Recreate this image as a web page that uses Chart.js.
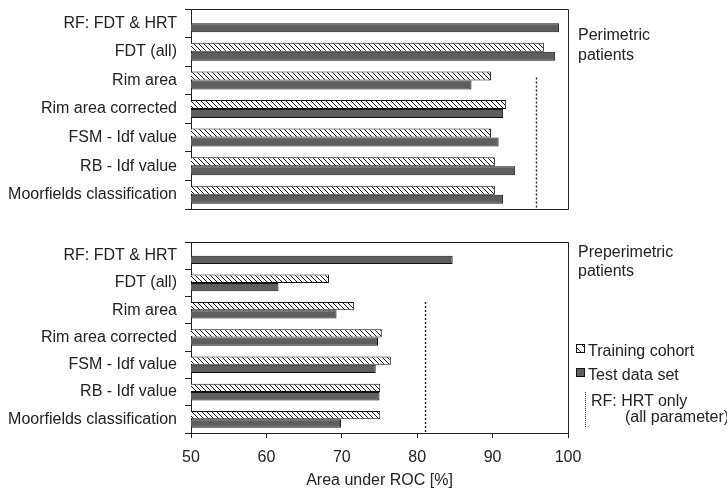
<!DOCTYPE html>
<html><head><meta charset="utf-8">
<script src="https://cdn.jsdelivr.net/npm/chart.js@4"></script>
<style>
body{margin:0;background:#fff;width:727px;height:492px;overflow:hidden;position:relative;font-family:"Liberation Sans",Arial,sans-serif;color:#222}
canvas{position:absolute;left:0}
.t{position:absolute;font-size:16px;line-height:16px;white-space:nowrap}
.sw{position:absolute;width:7px;height:7px;border:1px solid #111}
</style></head><body>
<canvas id="topc" width="727" height="215" style="top:0"></canvas>
<canvas id="botc" width="727" height="267" style="top:225px"></canvas>
<div class="t" style="left:578px;top:27px">Perimetric</div>
<div class="t" style="left:578px;top:46.5px">patients</div>
<div class="t" style="left:578px;top:244px">Preperimetric</div>
<div class="t" style="left:578px;top:262.5px">patients</div>
<div class="sw" style="left:576px;top:344px;background:repeating-linear-gradient(45deg,#fff 0 2.2px,#111 2.2px 3.4px,#fff 3.4px 5.6px)"></div>
<div class="t" style="left:588px;top:343px">Training cohort</div>
<div class="sw" style="left:576px;top:368px;background:#5e5e5e"></div>
<div class="t" style="left:588px;top:366.5px">Test data set</div>
<div style="position:absolute;left:585px;top:392px;height:35px;border-left:1.3px dotted #333"></div>
<div class="t" style="left:591px;top:393px">RF: HRT only</div>
<div class="t" style="left:625px;top:409px">(all parameter)</div>
<script>
const categories = ["RF: FDT & HRT","FDT (all)","Rim area","Rim area corrected","FSM - Idf value","RB - Idf value","Moorfields classification"];
const seriesNames = ["Training cohort","Test data set"];
const periTraining = [null,96.8,89.8,91.8,89.8,90.3,90.3];
const periTest = [98.8,98.3,87.2,91.4,90.8,93.0,91.4];
const preTraining = [null,68.3,71.6,75.3,76.5,75.1,75.1];
const preTest = [84.7,61.6,69.3,74.8,74.5,75.0,69.9];
const hrtOnly = [95.8,81.0];
const xTicks = [50,60,70,80,90,100];
const xTitle = "Area under ROC [%]";

const FONT = {family:'"Liberation Sans", Arial, sans-serif', size:16};
const INK = '#222';

function hatch(){
  const c=document.createElement('canvas'); c.width=c.height=5;
  const g=c.getContext('2d'); g.fillStyle='#fff'; g.fillRect(0,0,5,5);
  g.strokeStyle='#111'; g.lineWidth=1;
  g.beginPath();
  for(const k of [-5,0,5]){ g.moveTo(-1,-1+k); g.lineTo(6,6+k); }
  g.stroke();
  return g.createPattern(c,'repeat');
}

const boxPlugin = {id:'box', afterDraw(chart){
  const {ctx, chartArea:a} = chart;
  ctx.save(); ctx.strokeStyle=INK; ctx.lineWidth=1;
  ctx.beginPath();
  ctx.moveTo(a.left, Math.round(a.top)+0.5); ctx.lineTo(Math.round(a.right)+0.5, Math.round(a.top)+0.5);
  ctx.lineTo(Math.round(a.right)+0.5, Math.round(a.bottom)+0.5);
  if(chart.options.plugins.box.bottom){ ctx.lineTo(a.left, Math.round(a.bottom)+0.5); }
  ctx.stroke(); ctx.restore();
}};
const refPlugin = {id:'refLine', afterDatasetsDraw(chart, args, opts){
  const {ctx, chartArea:a} = chart;
  const x = Math.round(chart.scales.x.getPixelForValue(opts.value))+0.5;
  const y0 = chart.scales.y.getPixelForValue(opts.from);
  ctx.save(); ctx.strokeStyle='#222'; ctx.lineWidth=1.4; ctx.setLineDash([2,2]);
  ctx.beginPath(); ctx.moveTo(x,y0); ctx.lineTo(x,a.bottom); ctx.stroke(); ctx.restore();
}};

function make(id, train, test, refVal, refFrom, isBottom, catPct){
  const pat = hatch();
  const xScale = {type:'linear', min:xTicks[0], max:xTicks[xTicks.length-1], display:isBottom,
    afterBuildTicks:s=>{s.ticks=xTicks.map(v=>({value:v}));},
    grid:{drawOnChartArea:false, drawTicks:true, tickLength:5, color:INK, tickColor:INK},
    border:{display:true, color:INK, width:1},
    ticks:{font:FONT, color:INK, padding:10, maxRotation:0},
    title:{display:true, text:xTitle, font:FONT, color:INK, padding:{top:0,bottom:1.5}}
  };
  if(isBottom) xScale.afterFit = s=>{s.height=59;};
  return new Chart(document.getElementById(id), {
    type:'bar',
    data:{labels:categories, datasets:[
      {label:seriesNames[0], data:train, backgroundColor:pat, borderColor:'#111', borderWidth:1, borderSkipped:false},
      {label:seriesNames[1], data:test, backgroundColor:'#5e5e5e', borderColor:'#111', borderWidth:1, borderSkipped:false}
    ]},
    options:{
      indexAxis:'y', responsive:false, animation:false, devicePixelRatio:1,
      datasets:{bar:{categoryPercentage:catPct, barPercentage:1}},
      layout:{padding: isBottom ? {top:17,right:159,bottom:0,left:0} : {top:9,right:159,bottom:6,left:0}},
      plugins:{legend:{display:false}, tooltip:{enabled:false}, box:{bottom:!isBottom},
        refLine:{value:refVal, from:refFrom}},
      scales:{
        x:xScale,
        y:{type:'category', offset:true,
          afterFit:s=>{s.width=191; s.paddingTop=0; s.paddingBottom=0;},
          grid:{offset:true, drawOnChartArea:false, drawTicks:true, tickLength:6, color:INK, tickColor:INK},
          border:{display:true, color:INK, width:1},
          ticks:{font:FONT, color:INK, padding:8, autoSkip:false}
        }
      }
    },
    plugins:[boxPlugin, refPlugin]
  });
}
make('topc', periTraining, periTest, hrtOnly[0], 1.9, false, 0.63);
make('botc', preTraining, preTest, hrtOnly[1], 1.7, true, 0.61);
</script>
</body></html>
